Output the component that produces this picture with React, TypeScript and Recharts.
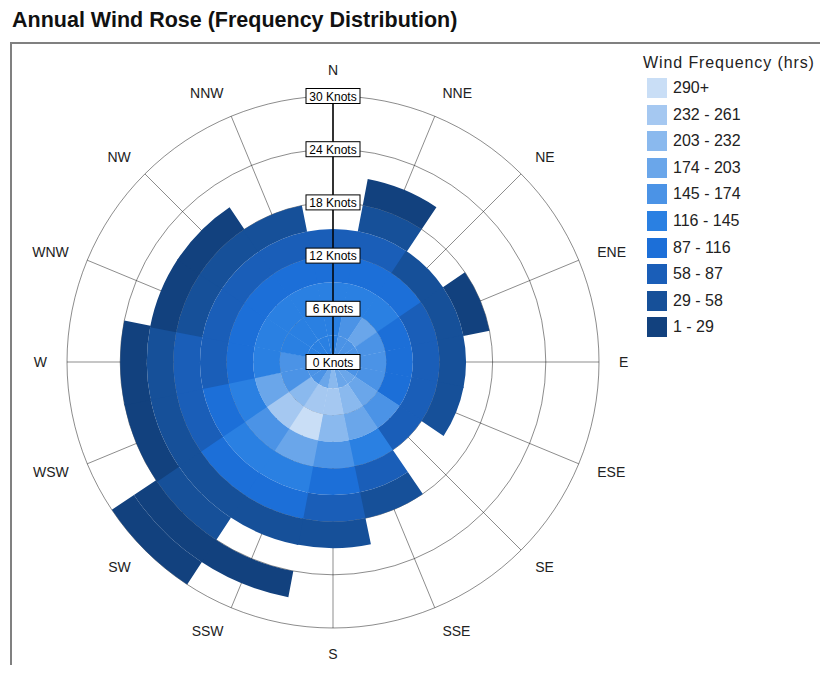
import React from 'react';
import { RadialBarChart, RadialBar, PolarAngleAxis, PolarRadiusAxis, PolarGrid, Cell } from 'recharts';

const directions = ['N', 'NNE', 'NE', 'ENE', 'E', 'ESE', 'SE', 'SSE', 'S', 'SSW', 'SW', 'WSW', 'W', 'WNW', 'NW', 'NNW'];
const speedEdges = [0, 3, 6, 9, 12, 15, 18, 21, 24, 27, 30];
const radiusTicks = [0, 6, 12, 18, 24, 30];

// hours per speed bin (0-3, 3-6, ... 27-30 knots)
const hrsN = [130, 135, 125, 95, 65, 0, 0, 0, 0, 0];
const hrsNNE = [150, 165, 140, 100, 70, 45, 20, 0, 0, 0];
const hrsNE = [155, 180, 130, 95, 50, 0, 0, 0, 0, 0];
const hrsENE = [145, 165, 110, 80, 50, 25, 0, 0, 0, 0];
const hrsE = [150, 155, 105, 75, 40, 0, 0, 0, 0, 0];
const hrsESE = [160, 170, 115, 70, 35, 0, 0, 0, 0, 0];
const hrsSE = [180, 195, 150, 70, 0, 0, 0, 0, 0, 0];
const hrsSSE = [190, 210, 185, 125, 75, 40, 0, 0, 0, 0];
const hrsS = [205, 240, 215, 150, 100, 60, 30, 0, 0, 0];
const hrsSSW = [195, 250, 300, 180, 125, 90, 45, 0, 15, 0];
const hrsSW = [170, 215, 235, 165, 120, 88, 50, 35, 20, 10];
const hrsWSW = [155, 170, 180, 135, 100, 65, 40, 20, 0, 0];
const hrsW = [140, 150, 140, 110, 80, 60, 35, 18, 0, 0];
const hrsWNW = [135, 140, 125, 100, 75, 50, 25, 0, 0, 0];
const hrsNW = [130, 135, 120, 95, 70, 45, 20, 0, 0, 0];
const hrsNNW = [125, 130, 118, 92, 62, 35, 0, 0, 0, 0];

const hours = [hrsN, hrsNNE, hrsNE, hrsENE, hrsE, hrsESE, hrsSE, hrsSSE, hrsS, hrsSSW, hrsSW, hrsWSW, hrsW, hrsWNW, hrsNW, hrsNNW];

const legendLabels = ['290+', '232 - 261', '203 - 232', '174 - 203', '145 - 174', '116 - 145', '87 - 116', '58 - 87', '29 - 58', '1 - 29'];
const legendLower = [290, 232, 203, 174, 145, 116, 87, 58, 29, 1];
const legendColors = ['#c9def6', '#a5c8f1', '#8ab9ee', '#6aa6ea', '#4b93e6', '#2a80e2', '#1c6fd8', '#1a5eb8', '#165099', '#12417e'];

const colorFor = (h: number) => {
  if (!h || h <= 0) return 'transparent';
  for (let i = 0; i < legendLower.length; i++) {
    if (h >= legendLower[i]) return legendColors[i];
  }
  return legendColors[legendColors.length - 1];
};

const binKeys = speedEdges.slice(1).map((_, k) => 'b' + k);

const rows = directions.map((d) => {
  const row: any = { dir: d };
  binKeys.forEach((key, k) => {
    row[key] = speedEdges[k + 1] - speedEdges[k];
  });
  return row;
});

// chart geometry
const CX = 325;
const CY = 354;
const OUTER = 266;
const LABEL_GAP = 20;
const compassStep = 360 / directions.length;
const START = 90 - compassStep / 2;
const gridAngles = directions.map((_, i) => 90 - i * compassStep);

const FONT = '"Liberation Sans", Arial, sans-serif';

const KnotTick = (props: any) => {
  const { x, y, payload } = props;
  return (
    <g>
      <rect x={x - 27} y={y - 7.5} width={54} height={15} fill="#fff" stroke="#000" strokeWidth={1} />
      <text x={x} y={y + 0.5} textAnchor="middle" dominantBaseline="central" fontSize={12} fontFamily={FONT} fill="#000">
        {payload.value} Knots
      </text>
    </g>
  );
};

// the category axis ticks sit on the sector edges; labels go to the sector centre
const DirTick = (props: any) => {
  const { payload } = props;
  const a = ((payload.coordinate + compassStep / 2) * Math.PI) / 180;
  const s = Math.sin(a);
  const c = Math.cos(a);
  const r = OUTER + LABEL_GAP;
  const x = CX + r * c;
  const y = CY - (r + 6 * Math.abs(s)) * s;
  const anchor = c > 0.1 ? 'start' : c < -0.1 ? 'end' : 'middle';
  return (
    <text x={x} y={y} textAnchor={anchor} dominantBaseline="central" fontSize={14} fontFamily={FONT} fill="#222">
      {payload.value}
    </text>
  );
};

export default function App() {
  return (
    <div style={{ position: 'relative', width: 812, height: 657, overflow: 'hidden', fontFamily: FONT }}>
      <div style={{ position: 'absolute', left: 4, top: 0, lineHeight: '24px', fontSize: 21.5, fontWeight: 'bold', color: '#111' }}>
        Annual Wind Rose (Frequency Distribution)
      </div>
      <div style={{ position: 'absolute', left: 2, top: 34, width: 900, height: 700, borderTop: '2px solid #808080', borderLeft: '2px solid #808080' }} />
      <div style={{ position: 'absolute', left: 0, top: 0 }}>
        <RadialBarChart
          width={812}
          height={657}
          cx={CX}
          cy={CY}
          innerRadius={0}
          outerRadius={OUTER}
          startAngle={START}
          endAngle={START - 360}
          layout="centric"
          data={rows}
          barCategoryGap={0}
          barGap={0}
          margin={{ top: 0, right: 0, bottom: 0, left: 0 }}
        >
          <PolarAngleAxis dataKey="dir" type="category" tickLine={false} axisLine={false} tick={<DirTick />} />
          <PolarRadiusAxis type="number" domain={[0, 30]} ticks={radiusTicks} angle={90} axisLine={{ stroke: '#000', strokeWidth: 1.5 }} tickLine={false} tick={<KnotTick />} />
          {binKeys.map((key, k) => (
            <RadialBar key={key} dataKey={key} stackId="s" isAnimationActive={false} stroke="none">
              {directions.map((d, i) => (
                <Cell key={d} fill={colorFor(hours[i][k])} />
              ))}
            </RadialBar>
          ))}
          <PolarGrid gridType="circle" polarAngles={gridAngles} stroke="#000" strokeOpacity={0.45} />
        </RadialBarChart>
      </div>
      <div style={{ position: 'absolute', left: 635, top: 45, fontSize: 16, letterSpacing: 0.9, color: '#222', lineHeight: '20px' }}>
        Wind Frequency (hrs)
      </div>
      {legendLabels.map((lab, i) => (
        <div key={lab} style={{ position: 'absolute', left: 639, top: 70 + i * 26.6, height: 20, display: 'flex', alignItems: 'center' }}>
          <div style={{ width: 20, height: 20, background: legendColors[i] }} />
          <div style={{ marginLeft: 6, fontSize: 16, color: '#222' }}>{lab}</div>
        </div>
      ))}
    </div>
  );
}
